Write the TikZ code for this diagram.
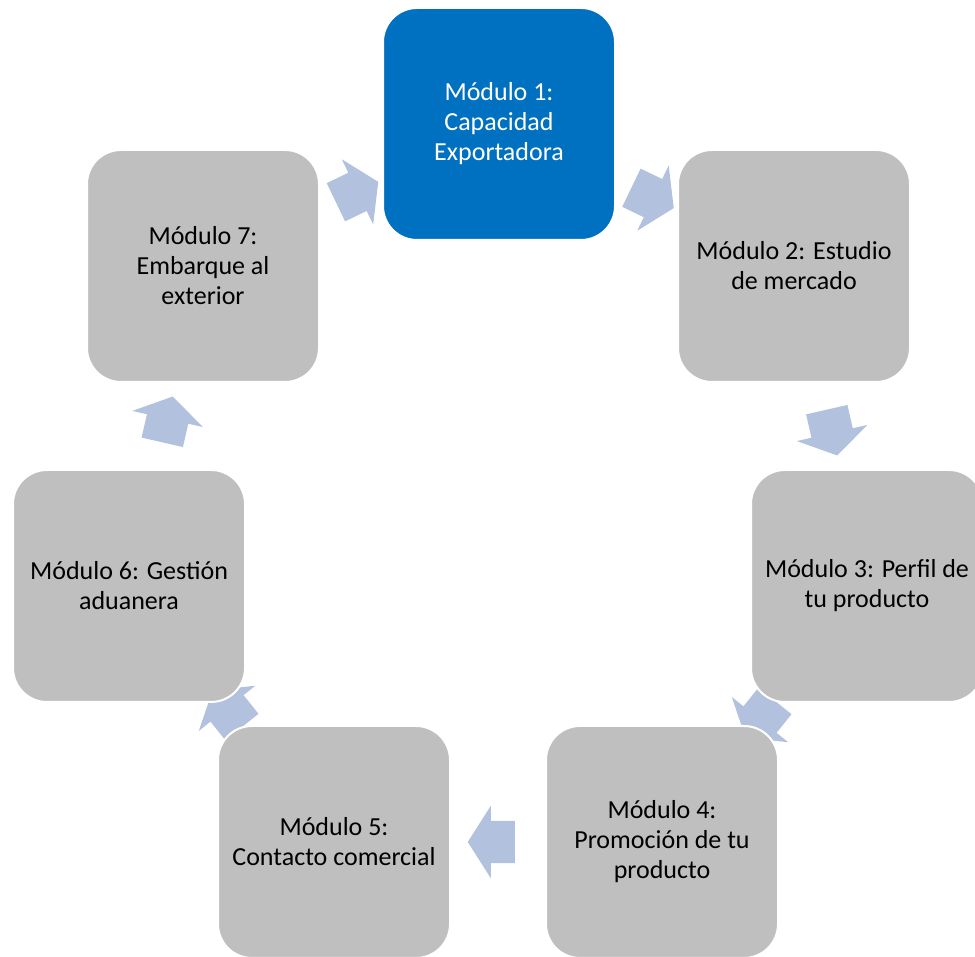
\documentclass[tikz,border=0pt]{standalone}
\usepackage{fontspec}
\setmainfont{Carlito}
\usetikzlibrary{shapes.arrows, positioning, calc, backgrounds}
\definecolor{modblue}{RGB}{0, 112, 192}
\definecolor{modgray}{RGB}{191, 191, 191}
\definecolor{cyclearrow}{RGB}{178, 194, 222}

\begin{document}
\begin{tikzpicture}[x=1pt, y=1pt,
  modbox/.style={draw=white, line width=2pt, fill=modgray, rounded corners=34pt, minimum width=232pt, minimum height=232pt, align=center, inner sep=0pt, font=\fontsize{26}{30}\selectfont, text=black},
  modfirst/.style={modbox, fill=modblue, text=white},
  cyc/.style={single arrow, fill=cyclearrow, draw=none, inner sep=0pt, minimum height=47pt, single arrow head extend=15pt, single arrow tip angle=115}
]
  \useasboundingbox (0,0) rectangle (975,957);
  \node[modfirst] (m1) at (499, 833) {Módulo 1:\\Capacidad\\Exportadora};
  \node[modbox] (m2) at (794, 691) {Módulo 2: Estudio\\de mercado};
  \node[modbox] (m3) at (867, 371) {Módulo 3: Perfil de\\tu producto};
  \node[modbox] (m4) at (662, 115) {Módulo 4:\\Promoción de tu\\producto};
  \node[modbox] (m5) at (334, 115) {Módulo 5:\\Contacto comercial};
  \node[modbox] (m6) at (129, 371) {Módulo 6: Gestión\\aduanera};
  \node[modbox] (m7) at (203, 691) {Módulo 7:\\Embarque al\\exterior};
  \begin{pgfonlayer}{background}
    \node[cyc, rotate=-25.7] (a12) at ($(m1)!0.5!(m2)$) {\rule{0pt}{42pt}};
    \node[cyc, rotate=-77.1] (a23) at ($(m2)!0.5!(m3)$) {\rule{0pt}{42pt}};
    \node[cyc, rotate=-128.7] (a34) at ($(m3)!0.5!(m4)$) {\rule{0pt}{42pt}};
    \node[cyc, rotate=180] (a45) at ($(m4)!0.5!(m5)$) {\rule{0pt}{42pt}};
    \node[cyc, rotate=128.7] (a56) at ($(m5)!0.5!(m6)$) {\rule{0pt}{42pt}};
    \node[cyc, rotate=77.1] (a67) at ($(m6)!0.5!(m7)$) {\rule{0pt}{42pt}};
    \node[cyc, rotate=25.7] (a71) at ($(m7)!0.5!(m1)$) {\rule{0pt}{42pt}};
  \end{pgfonlayer}
\end{tikzpicture}
\end{document}
